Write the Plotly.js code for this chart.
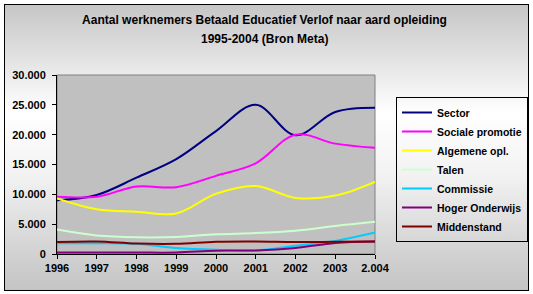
<!DOCTYPE html>
<html>
<head>
<meta charset="utf-8">
<script src="https://cdn.plot.ly/plotly-3.0.1.min.js"></script>
<style>
html,body{margin:0;padding:0;background:#ffffff;width:533px;height:294px;overflow:hidden;}
#bg{position:absolute;left:4px;top:4px;width:523px;height:285px;border:1px solid #000;
background:linear-gradient(to bottom,#c6c6c6 0%,#e4e4e4 20%,#ffffff 38%,#f2f2f2 60%,#dadada 80%,#c4c4c4 100%);}
#chart{position:absolute;left:0;top:0;width:533px;height:294px;}
</style>
</head>
<body>
<div id="bg"></div>
<div id="chart"></div>
<script>
const years = [1996, 1997, 1998, 1999, 2000, 2001, 2002, 2003, 2004];
const xTickText = ["1996", "1997", "1998", "1999", "2000", "2001", "2002", "2003", "2.004"];
const yTickVals = [0, 5000, 10000, 15000, 20000, 25000, 30000];
const yTickText = ["0", "5.000", "10.000", "15.000", "20.000", "25.000", "30.000"];

const titleLine1 = "Aantal werknemers Betaald Educatief Verlof naar aard opleiding";
const titleLine2 = "1995-2004 (Bron Meta)";

const seriesNames = ["Sector", "Sociale promotie", "Algemene opl.", "Talen", "Commissie", "Hoger Onderwijs", "Middenstand"];
const sector      = [9000, 9900, 12800, 15900, 20600, 25000, 19900, 23800, 24500];
const sociale     = [9600, 9600, 11300, 11200, 13100, 15200, 20000, 18500, 17800];
const algemene    = [9300, 7500, 7100, 6800, 10100, 11400, 9400, 9800, 12100];
const talen       = [4100, 3100, 2800, 2850, 3300, 3500, 3900, 4700, 5400];
const commissie   = [1800, 1800, 1700, 1000, 700, 600, 1400, 2200, 3600];
const hoger       = [250, 250, 250, 250, 550, 600, 1000, 1850, 2100];
const middenstand = [2000, 2100, 1750, 1700, 2050, 2100, 2000, 2050, 2100];

const seriesValues = [sector, sociale, algemene, talen, commissie, hoger, middenstand];
const seriesColors = ["#000080", "#ff00ff", "#ffff00", "#ccffcc", "#00ccff", "#800080", "#800000"];

const fam = "'Liberation Sans', Arial, sans-serif";
const font = {family: fam, size: 11, color: "#000"};

const traces = seriesNames.map((n, i) => ({
  x: years, y: seriesValues[i], name: n, type: "scatter", mode: "lines",
  line: {color: seriesColors[i], width: 2, shape: "spline", smoothing: 1},
  hoverinfo: "skip"
}));

const layout = {
  width: 533, height: 294,
  paper_bgcolor: "rgba(0,0,0,0)",
  plot_bgcolor: "#c0c0c0",
  margin: {l: 57, r: 158, t: 75, b: 40, pad: 0, autoexpand: false},
  font: font,
  showlegend: true,
  title: {
    text: "<b>" + titleLine1 + "</b>",
    font: {family: fam, size: 12, color: "#000"},
    x: 264.5 / 533, xanchor: "center", xref: "container",
    y: 1 - 20 / 294, yanchor: "middle", yref: "container"
  },
  annotations: [{
    text: "<b>" + titleLine2 + "</b>", showarrow: false,
    xref: "paper", yref: "paper", x: (264.5 - 57) / 318, y: (254.5 - 39) / 179.5,
    xanchor: "center", yanchor: "middle",
    font: {family: fam, size: 12, color: "#000"}
  }],
  xaxis: {
    range: [1996, 2004], tickvals: years, ticktext: xTickText.map(t => "<b>" + t + "</b>"),
    showgrid: false, zeroline: false, showline: true, linecolor: "#000", linewidth: 1,
    ticks: "outside", ticklen: 4, tickcolor: "#000", tickfont: {family: fam, size: 11, color: "#000"},
    fixedrange: true
  },
  yaxis: {
    range: [0, 30000], tickvals: yTickVals, ticktext: yTickText.map(t => "<b>" + t + "</b>"),
    showgrid: false, zeroline: false, showline: true, linecolor: "#000", linewidth: 1,
    ticks: "outside", ticklen: 4, tickcolor: "#000", tickfont: {family: fam, size: 11, color: "#000"},
    ticklabelstandoff: 4,
    fixedrange: true
  },
  legend: {
    xref: "container", yref: "container",
    x: 396 / 533, xanchor: "left", y: 1 - 97 / 294, yanchor: "top",
    bgcolor: "rgba(0,0,0,0)", bordercolor: "#000", borderwidth: 1,
    font: {family: fam, size: 10.5, color: "#000", weight: "bold"},
    tracegroupgap: 0, itemwidth: 30
  },
  shapes: [{
    type: "rect", xref: "paper", yref: "paper", x0: 0, x1: 1, y0: 0, y1: 1,
    line: {color: "#808080", width: 1}, layer: "below"
  }]
};

Plotly.newPlot("chart", traces, layout, {displayModeBar: false, staticPlot: true});
</script>
</body>
</html>
